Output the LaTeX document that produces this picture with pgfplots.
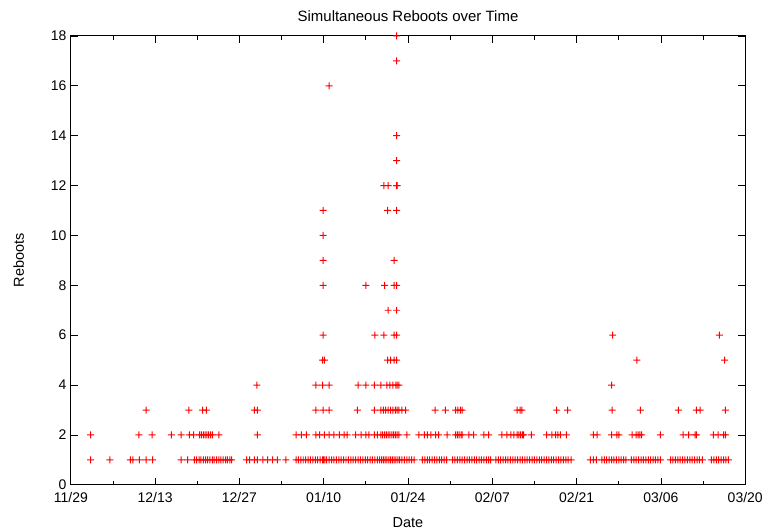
\documentclass[border=0pt]{standalone}
\usepackage{pgfplots}
\pgfplotsset{compat=1.18}
\usepackage{fontspec}
\setmainfont{Liberation Sans}
\definecolor{gpred}{RGB}{255,0,0}
\pgfdeclareplotmark{rplus}{%
  \pgfsetfillcolor{gpred}%
  \pgfpathrectangle{\pgfqpoint{-\pgfplotmarksize}{-0.5pt}}{\pgfqpoint{2\pgfplotmarksize}{1pt}}%
  \pgfpathrectangle{\pgfqpoint{-0.5pt}{-\pgfplotmarksize}}{\pgfqpoint{1pt}{2\pgfplotmarksize}}%
  \pgfusepathqfill}
\begin{document}
\begin{tikzpicture}
\begin{axis}[
  scale only axis, width=676pt, height=450pt,
  font=\fontsize{14}{16}\selectfont,
  xmin=0, xmax=112, ymin=0, ymax=18,
  xtick={0,14,...,112},
  xticklabels={11/29,12/13,12/27,01/10,01/24,02/07,02/21,03/06,03/20},
  minor x tick num=1,
  ytick={0,2,...,18},
  /pgf/number format/assume math mode=true,
  tick label style={font=\fontsize{14}{16}\selectfont},
  label style={font=\fontsize{14.5}{16}\selectfont},
  title style={font=\fontsize{15}{17}\selectfont},
  tick align=inside, major tick length=7pt, minor tick length=4pt,
  tick style={black, line width=0.8pt},
  minor tick style={black, line width=0.8pt},
  axis line style={black, line width=0.9pt},
  xtick pos=both, ytick pos=both,
  xticklabel style={yshift=-4pt},
  yticklabel style={xshift=-1pt},
  title={Simultaneous Reboots over Time},
  title style={yshift=5pt},
  xlabel={Date}, ylabel={Reboots},
  xlabel style={yshift=-8pt},
  ylabel style={yshift=20pt},
]
\addplot[color=gpred, fill=gpred, only marks, mark=rplus, mark size=3.5pt, mark options={fill=gpred}] table[row sep=\\] {x y\\
3.3 1\\ 6.5 1\\ 9.9 1\\ 10.3 1\\ 11.4 1\\ 12.5 1\\ 13.6 1\\
18.3 1\\ 19.4 1\\
20.5 1\\ 20.9 1\\ 21.3 1\\ 21.6 1\\ 22.0 1\\ 22.4 1\\ 22.7 1\\ 23.1 1\\ 23.5 1\\ 23.8 1\\ 24.2 1\\ 24.6 1\\ 24.9 1\\ 25.3 1\\ 25.7 1\\ 26.0 1\\ 26.4 1\\ 26.7 1\\
29.2 1\\ 29.7 1\\ 30.5 1\\ 31.0 1\\ 31.9 1\\ 32.7 1\\ 33.5 1\\ 34.3 1\\ 35.7 1\\
37.4 1\\ 37.8 1\\ 38.2 1\\ 38.6 1\\ 39.0 1\\ 39.4 1\\ 39.8 1\\ 40.2 1\\ 40.6 1\\ 41.0 1\\ 41.4 1\\ 41.8 1\\ 42.0 1\\ 42.2 1\\ 42.5 1\\ 42.9 1\\ 43.3 1\\ 43.7 1\\ 44.1 1\\ 44.5 1\\ 44.9 1\\ 45.3 1\\ 45.7 1\\ 46.1 1\\ 46.5 1\\ 46.9 1\\ 47.3 1\\ 47.7 1\\ 48.1 1\\ 48.5 1\\ 48.9 1\\ 49.3 1\\ 49.7 1\\ 50.1 1\\ 50.5 1\\ 50.9 1\\ 51.3 1\\ 51.6 1\\ 51.9 1\\ 52.2 1\\ 52.5 1\\ 52.8 1\\ 53.1 1\\ 53.4 1\\ 53.7 1\\ 54.0 1\\ 54.3 1\\ 54.6 1\\ 55.0 1\\ 55.4 1\\ 55.8 1\\ 56.2 1\\ 56.6 1\\ 57.0 1\\
58.4 1\\ 58.8 1\\ 59.2 1\\ 59.6 1\\ 60.0 1\\ 60.4 1\\ 60.8 1\\ 61.2 1\\ 61.6 1\\ 62.0 1\\ 62.4 1\\
63.4 1\\ 63.8 1\\ 64.2 1\\ 64.6 1\\ 65.0 1\\ 65.4 1\\ 65.8 1\\ 66.2 1\\ 66.6 1\\ 67.0 1\\ 67.4 1\\ 67.8 1\\ 68.2 1\\ 68.6 1\\ 69.0 1\\ 69.4 1\\ 69.7 1\\
70.6 1\\ 71.0 1\\ 71.4 1\\ 71.8 1\\ 72.2 1\\ 72.6 1\\ 73.0 1\\ 73.4 1\\ 73.8 1\\ 74.2 1\\ 74.6 1\\ 75.0 1\\ 75.4 1\\ 75.8 1\\ 76.2 1\\ 76.6 1\\ 77.0 1\\ 77.4 1\\ 77.8 1\\ 78.2 1\\ 78.6 1\\ 79.0 1\\ 79.4 1\\ 79.8 1\\ 80.2 1\\ 80.6 1\\ 81.0 1\\ 81.4 1\\ 81.8 1\\ 82.2 1\\ 82.6 1\\ 83.1 1\\
86.3 1\\ 86.8 1\\ 87.3 1\\
88.2 1\\ 88.6 1\\ 89.0 1\\ 89.4 1\\ 89.8 1\\ 90.2 1\\ 90.6 1\\ 91.0 1\\ 91.4 1\\ 91.8 1\\ 92.2 1\\
93.1 1\\ 93.5 1\\ 93.9 1\\ 94.3 1\\ 94.7 1\\ 95.1 1\\ 95.5 1\\ 95.9 1\\ 96.3 1\\ 96.7 1\\ 97.1 1\\ 97.5 1\\ 97.9 1\\
99.6 1\\ 100.0 1\\ 100.4 1\\ 100.8 1\\ 101.2 1\\ 101.6 1\\ 102.0 1\\ 102.4 1\\ 102.8 1\\ 103.2 1\\ 103.6 1\\ 104.0 1\\ 104.4 1\\ 104.9 1\\
106.4 1\\ 106.8 1\\ 107.2 1\\ 107.6 1\\ 108.0 1\\ 108.4 1\\ 108.8 1\\ 109.2 1\\
3.3 2\\ 11.3 2\\ 13.5 2\\ 16.7 2\\ 18.3 2\\ 19.7 2\\ 20.4 2\\ 21.4 2\\ 21.7 2\\ 22.0 2\\ 22.3 2\\ 22.6 2\\ 22.9 2\\ 23.2 2\\ 23.5 2\\ 24.6 2\\ 31.0 2\\
37.4 2\\ 38.3 2\\ 39.1 2\\ 40.7 2\\ 41.3 2\\ 42.1 2\\ 42.9 2\\ 43.7 2\\ 44.6 2\\ 45.4 2\\ 45.9 2\\ 47.3 2\\ 48.2 2\\ 49.0 2\\ 49.5 2\\ 50.4 2\\ 50.9 2\\
51.5 2\\ 51.8 2\\ 52.1 2\\ 52.4 2\\ 52.7 2\\ 53.0 2\\ 53.3 2\\ 53.6 2\\ 53.9 2\\ 54.2 2\\ 54.5 2\\ 55.8 2\\
57.8 2\\ 58.7 2\\ 59.2 2\\ 59.8 2\\ 60.6 2\\ 61.1 2\\ 62.5 2\\ 63.9 2\\ 64.2 2\\ 64.5 2\\ 64.8 2\\ 65.0 2\\ 66.1 2\\ 66.9 2\\ 68.6 2\\ 69.4 2\\
71.6 2\\ 72.4 2\\ 73.1 2\\ 73.6 2\\ 74.1 2\\ 74.4 2\\ 74.7 2\\ 75.0 2\\ 75.2 2\\ 76.5 2\\ 79.0 2\\ 79.9 2\\ 80.5 2\\ 80.9 2\\ 81.3 2\\ 82.3 2\\
86.8 2\\ 87.4 2\\ 89.8 2\\ 90.7 2\\ 91.0 2\\ 93.2 2\\ 93.9 2\\ 94.2 2\\ 94.5 2\\ 94.8 2\\ 97.9 2\\ 101.7 2\\ 102.6 2\\ 103.7 2\\ 103.9 2\\ 106.7 2\\ 107.5 2\\ 108.4 2\\ 108.7 2\\
12.5 3\\ 19.6 3\\ 21.9 3\\ 22.5 3\\ 30.5 3\\ 31.0 3\\ 40.7 3\\ 41.9 3\\ 42.9 3\\ 47.6 3\\ 50.4 3\\
51.5 3\\ 51.9 3\\ 52.3 3\\ 52.7 3\\ 53.1 3\\ 53.5 3\\ 53.9 3\\ 54.2 3\\ 54.5 3\\ 55.0 3\\ 55.6 3\\
60.5 3\\ 62.2 3\\ 63.9 3\\ 64.3 3\\ 64.7 3\\ 65.0 3\\ 74.1 3\\ 74.6 3\\ 74.9 3\\ 80.7 3\\ 82.5 3\\ 89.9 3\\ 94.6 3\\ 100.9 3\\ 103.9 3\\ 104.5 3\\ 108.7 3\\
30.9 4\\ 40.7 4\\ 41.8 4\\ 42.9 4\\ 47.7 4\\ 49.0 4\\ 50.4 4\\ 51.5 4\\ 52.5 4\\ 53.0 4\\ 53.5 4\\ 54.0 4\\ 54.2 4\\ 54.5 4\\ 89.8 4\\
41.8 5\\ 42.1 5\\ 52.6 5\\ 53.1 5\\ 53.7 5\\ 54.1 5\\ 94.0 5\\ 108.6 5\\
41.9 6\\ 50.5 6\\ 52.0 6\\ 53.7 6\\ 54.1 6\\ 90.0 6\\ 107.7 6\\
52.7 7\\ 54.1 7\\
41.9 8\\ 49.0 8\\ 52.1 8\\ 53.7 8\\ 54.1 8\\
41.9 9\\ 53.7 9\\
41.9 10\\
41.9 11\\ 52.6 11\\ 54.1 11\\
52.0 12\\ 52.7 12\\ 54.1 12\\ 54.2 12\\
54.1 13\\
54.1 14\\
42.9 16\\
54.1 17\\
54.1 18\\
};
\end{axis}
\path (current axis.south west) ++(-71pt,-47pt) (current axis.north east) ++(19pt,36pt);
\end{tikzpicture}
\end{document}
